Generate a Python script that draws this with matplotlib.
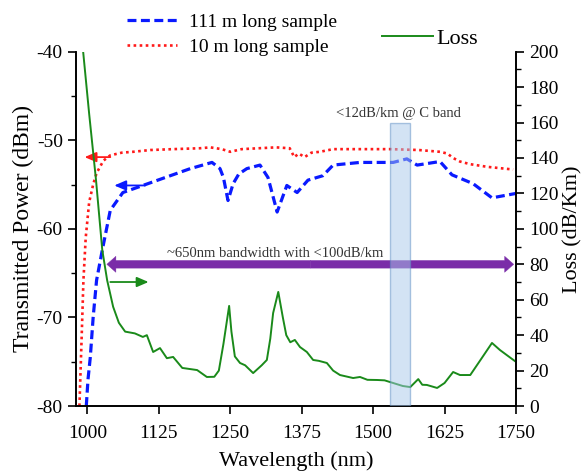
import matplotlib
matplotlib.use("Agg")
import matplotlib.pyplot as plt
from matplotlib.ticker import MultipleLocator

plt.rcParams['font.family'] = ['Liberation Serif', 'DejaVu Serif']
plt.rcParams['axes.unicode_minus'] = False

# ---- data ----
red_wl = [986, 990, 993, 997, 1003, 1010, 1016, 1028, 1040, 1060, 1080, 1110, 1150, 1197, 1215,
          1235, 1250, 1270, 1300, 1330, 1354, 1362, 1370, 1380, 1392, 1407, 1430, 1480, 1530,
          1580, 1617, 1630, 1640, 1652, 1670, 1700, 1745]
red_db = [-80, -72, -65.8, -61, -57, -55, -53.7, -52.3, -51.7, -51.4, -51.3, -51.1, -51.0, -50.9,
          -50.8, -51.0, -51.3, -51.0, -50.9, -50.8, -50.9, -51.9, -51.5, -51.9, -51.4, -51.3,
          -51.0, -51.0, -51.0, -51.1, -51.3, -51.5, -52.0, -52.4, -52.7, -53.0, -53.3]

blue_wl = [998, 1001, 1005, 1010, 1016, 1026, 1040, 1062, 1097, 1145, 1180, 1218, 1232, 1238,
           1246, 1255, 1265, 1279, 1302, 1316, 1332, 1349, 1358, 1367, 1386, 1412, 1430, 1477,
           1535, 1559, 1577, 1617, 1638, 1675, 1708, 1750]
blue_db = [-80, -77, -74.5, -70, -65.8, -62.4, -57.9, -55.9, -55.1, -54.0, -53.2, -52.5, -53.2,
           -54.2, -56.8, -54.9, -53.8, -53.2, -52.8, -54.2, -58.1, -55.1, -55.5, -55.9, -54.5,
           -54.0, -52.8, -52.5, -52.5, -52.1, -52.8, -52.4, -53.9, -54.9, -56.5, -56.0]

loss_wl = [992.5, 1003, 1015, 1026, 1034.5, 1045, 1055, 1066, 1083, 1097, 1104, 1115, 1127, 1139,
           1150, 1166, 1192, 1209, 1222, 1230, 1238, 1248, 1252, 1258, 1267, 1276, 1290, 1305,
           1314, 1320, 1325, 1334, 1342, 1348, 1355, 1363, 1372, 1384, 1395, 1405, 1419, 1430,
           1442, 1465, 1477, 1490, 1507, 1520, 1535, 1552, 1565, 1579, 1586, 1594, 1612, 1625,
           1640, 1652, 1670, 1690, 1708, 1722, 1735, 1748]
loss_val = [200, 165, 127.6, 88, 71, 56, 47, 42, 41, 39, 40, 30.5, 32.7, 27, 27.7, 21.5, 20.3,
            16.4, 16.5, 20, 35, 56.5, 42, 28, 24.3, 23, 18.6, 23, 26, 38, 52.5, 64.4, 50, 40, 36,
            37.3, 33.3, 30.5, 26, 25.5, 24.3, 20, 17.5, 15.8, 16.4, 14.8, 14.7, 14.5, 13, 11.3,
            10.7, 15.2, 12, 11.9, 10.2, 13, 19.2, 17.5, 17.5, 27, 35.6, 31.6, 28.5, 25.4]

x_ticks = [1000, 1125, 1250, 1375, 1500, 1625, 1750]
cband = (1530, 1565, 160)

# ---- figure ----
fig = plt.figure(figsize=(5.86, 4.76), dpi=100)
ax = fig.add_axes([0.1297, 0.147, 0.8805 - 0.1297, 0.8914 - 0.147])
ax2 = ax.twinx()

l_blue, = ax.plot(blue_wl, blue_db, color='#0a1aff', lw=2.3, linestyle=(0, (2.8, 1.4)),
                  label='111 m long sample')
l_red, = ax.plot(red_wl, red_db, color='#ff1a1a', lw=1.9, linestyle=(0, (1, 1.3)),
                 label='10 m long sample')
l_loss, = ax2.plot(loss_wl, loss_val, color='#1a8a1a', lw=1.4, label='Loss')

ax.set_xlim(980, 1750)
ax.set_ylim(-80, -40)
ax2.set_ylim(0, 200)
ax.set_xticks(x_ticks)
ax.yaxis.set_major_locator(MultipleLocator(10))
ax.yaxis.set_minor_locator(MultipleLocator(5))
ax2.yaxis.set_major_locator(MultipleLocator(20))
ax2.yaxis.set_minor_locator(MultipleLocator(10))

for a in (ax, ax2):
    a.spines['top'].set_visible(False)
    for s in a.spines.values():
        s.set_linewidth(1.2)
    a.tick_params(which='major', length=6, width=1.2, labelsize=14, direction='out')
    a.tick_params(which='minor', length=3.5, width=1.0, direction='out')
ax.tick_params(axis='x', pad=8)

ax.set_xlabel('Wavelength (nm)', fontsize=16, labelpad=6)
ax.set_ylabel('Transmitted Power (dBm)', fontsize=17, labelpad=2)
ax2.set_ylabel('Loss (dB/Km)', fontsize=16, labelpad=3)

# C band box
ax2.axvspan(cband[0], cband[1], ymin=0, ymax=cband[2] / 200, facecolor='#a9c8ea', alpha=0.5,
            edgecolor='#5f8fc4', lw=1.0, zorder=5)
ax2.text((cband[0] + cband[1]) / 2 - 4, 161.5, '<12dB/km @ C band', ha='center', va='bottom',
         fontsize=10.5, color='#333333')

# bandwidth arrow
purple = '#7a2ca8'
mid = 1390
for end in (1034, 1746):
    ax2.annotate('', xy=(end, 80), xytext=(mid, 80),
                 arrowprops=dict(arrowstyle='simple,head_length=0.65,head_width=1.15,tail_width=0.55',
                                 mutation_scale=10, fc=purple, ec=purple, lw=0.3,
                                 shrinkA=0, shrinkB=0), zorder=4)
ax2.text(1328, 82.7, '~650nm bandwidth with <100dB/km', ha='center', va='bottom',
         fontsize=10.5, color='#333333')

# small direction arrows
ax.annotate('', xy=(995, -51.9), xytext=(1040, -51.9),
            arrowprops=dict(arrowstyle='-|>,head_length=0.7,head_width=0.3', color='#ff1a1a',
                            lw=1.3, shrinkA=0, shrinkB=0))
ax.annotate('', xy=(1047, -55.1), xytext=(1101, -55.1),
            arrowprops=dict(arrowstyle='-|>,head_length=0.7,head_width=0.3', color='#0a1aff',
                            lw=1.3, shrinkA=0, shrinkB=0))
ax2.annotate('', xy=(1107, 70), xytext=(1040, 70),
             arrowprops=dict(arrowstyle='-|>,head_length=0.7,head_width=0.3', color='#1a8a1a',
                             lw=1.3, shrinkA=0, shrinkB=0))

# legends
fig.legend(handles=[l_blue, l_red], loc='upper left', bbox_to_anchor=(0.19, 1.005),
           frameon=False, fontsize=14, handlelength=2.6, handletextpad=0.6,
           labelspacing=0.4, borderpad=0.3)
fig.legend(handles=[l_loss], loc='upper left', bbox_to_anchor=(0.622, 0.978),
           frameon=False, fontsize=16, handlelength=2.3, handletextpad=0.15, borderpad=0.3)

fig.savefig('out.png', dpi=100)
